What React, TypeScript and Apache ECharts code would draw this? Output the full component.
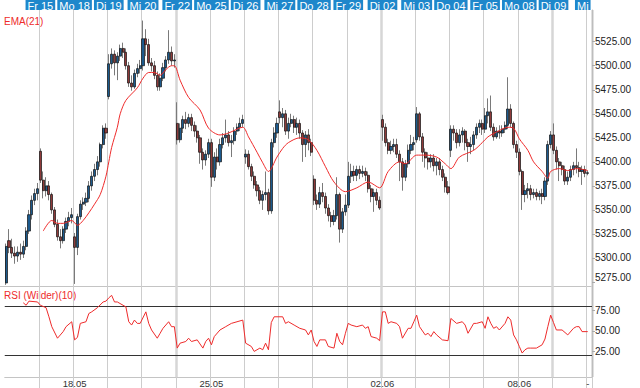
import React, { useEffect, useRef } from "react";
import * as echarts from "echarts";

const BARS_PER_DAY = 12;
const LAST_DAY_SLOTS = 2;
const dayNames = ["Do 14", "Fr 15", "Mo 18", "Di 19", "Mi 20", "Fr 22", "Mo 25", "Di 26", "Mi 27", "Do 28", "Fr 29", "Di 02", "Mi 03", "Do 04", "Fr 05", "Mo 08", "Di 09", "Mi"];
const dateTicks = ["", "", "18.05", "", "", "", "25.05", "", "", "", "", "02.06", "", "", "", "08.06", "", "-"];
const wideBreaks = [5, 11, 16];

// [open, close, low, high]
const candles = [
  [5274, 5312, 5272, 5315], [5318, 5311, 5305, 5330], [5311, 5305, 5300, 5320], [5305, 5302, 5294, 5312],
  [5302, 5306, 5296, 5312], [5306, 5304, 5298, 5315], [5304, 5312, 5300, 5318], [5312, 5328, 5308, 5332],
  [5328, 5345, 5325, 5350], [5345, 5360, 5340, 5365], [5360, 5367, 5355, 5372], [5367, 5372, 5360, 5378],
  [5411, 5381, 5378, 5414], [5381, 5370, 5362, 5390], [5370, 5375, 5364, 5384], [5375, 5366, 5360, 5380],
  [5366, 5350, 5346, 5368], [5350, 5335, 5332, 5353], [5335, 5322, 5318, 5340], [5322, 5318, 5310, 5330],
  [5318, 5330, 5315, 5333], [5330, 5338, 5326, 5342], [5338, 5342, 5333, 5348], [5342, 5345, 5336, 5352],
  [5322, 5311, 5273, 5326], [5311, 5343, 5303, 5346], [5343, 5356, 5340, 5360], [5356, 5358, 5350, 5363],
  [5358, 5362, 5354, 5368], [5362, 5375, 5358, 5380], [5375, 5385, 5370, 5390], [5385, 5392, 5380, 5398],
  [5392, 5400, 5386, 5406], [5400, 5418, 5395, 5420], [5418, 5435, 5414, 5438], [5435, 5430, 5424, 5440],
  [5468, 5502, 5465, 5512], [5502, 5512, 5497, 5518], [5512, 5503, 5490, 5516], [5503, 5510, 5485, 5514],
  [5510, 5518, 5505, 5522], [5518, 5514, 5508, 5524], [5514, 5500, 5496, 5518], [5500, 5482, 5478, 5504],
  [5482, 5478, 5474, 5490], [5478, 5492, 5476, 5496], [5492, 5497, 5488, 5502], [5497, 5500, 5492, 5506],
  [5500, 5528, 5495, 5547], [5528, 5522, 5510, 5538], [5522, 5503, 5500, 5528], [5503, 5500, 5494, 5508],
  [5500, 5490, 5486, 5505], [5490, 5478, 5474, 5494], [5478, 5487, 5474, 5492], [5487, 5498, 5484, 5503],
  [5498, 5506, 5494, 5510], [5506, 5514, 5502, 5537], [5514, 5505, 5500, 5520], [5505, 5506, 5498, 5512],
  [5440, 5423, 5418, 5462], [5423, 5435, 5420, 5440], [5435, 5444, 5430, 5448], [5444, 5440, 5434, 5452],
  [5440, 5446, 5436, 5450], [5446, 5438, 5432, 5450], [5438, 5432, 5426, 5442], [5432, 5425, 5420, 5438],
  [5425, 5410, 5398, 5428], [5410, 5402, 5392, 5414], [5402, 5408, 5396, 5412], [5408, 5420, 5404, 5424],
  [5420, 5384, 5374, 5424], [5384, 5405, 5380, 5410], [5405, 5400, 5392, 5414], [5400, 5418, 5396, 5424],
  [5418, 5425, 5414, 5430], [5425, 5428, 5420, 5444], [5428, 5420, 5416, 5432], [5420, 5422, 5405, 5428],
  [5422, 5432, 5418, 5436], [5432, 5436, 5428, 5440], [5436, 5440, 5432, 5446], [5440, 5444, 5436, 5449],
  [5405, 5408, 5398, 5413], [5408, 5395, 5392, 5412], [5395, 5385, 5380, 5398], [5385, 5376, 5372, 5390],
  [5376, 5370, 5364, 5380], [5370, 5360, 5356, 5374], [5360, 5366, 5350, 5370], [5366, 5368, 5360, 5390],
  [5368, 5349, 5345, 5372], [5349, 5420, 5346, 5424], [5420, 5430, 5415, 5436], [5430, 5440, 5425, 5446],
  [5452, 5446, 5440, 5464], [5446, 5450, 5436, 5456], [5450, 5432, 5428, 5454], [5432, 5440, 5424, 5446],
  [5440, 5444, 5436, 5450], [5444, 5436, 5430, 5448], [5436, 5440, 5428, 5446], [5440, 5430, 5424, 5444],
  [5430, 5418, 5400, 5433], [5418, 5428, 5405, 5432], [5428, 5420, 5412, 5434], [5420, 5410, 5406, 5424],
  [5382, 5360, 5355, 5386], [5360, 5356, 5350, 5366], [5356, 5368, 5352, 5374], [5368, 5364, 5358, 5378],
  [5364, 5352, 5346, 5368], [5352, 5344, 5338, 5356], [5344, 5338, 5332, 5348], [5338, 5344, 5334, 5350],
  [5344, 5366, 5340, 5384], [5366, 5330, 5316, 5368], [5330, 5348, 5326, 5352], [5348, 5355, 5344, 5366],
  [5355, 5385, 5352, 5400], [5385, 5390, 5378, 5398], [5390, 5386, 5380, 5396], [5386, 5392, 5380, 5396],
  [5392, 5388, 5382, 5396], [5388, 5390, 5384, 5396], [5390, 5386, 5380, 5394], [5386, 5372, 5368, 5390],
  [5372, 5364, 5358, 5376], [5364, 5368, 5348, 5372], [5368, 5360, 5355, 5372], [5360, 5352, 5350, 5364],
  [5444, 5436, 5422, 5449], [5436, 5420, 5416, 5440], [5420, 5412, 5408, 5424], [5412, 5416, 5408, 5422],
  [5416, 5418, 5410, 5424], [5418, 5408, 5404, 5424], [5408, 5400, 5380, 5412], [5400, 5384, 5370, 5404],
  [5384, 5398, 5380, 5402], [5398, 5412, 5394, 5418], [5412, 5418, 5408, 5428], [5418, 5420, 5412, 5426],
  [5423, 5450, 5420, 5457], [5450, 5426, 5422, 5452], [5426, 5410, 5400, 5430], [5410, 5404, 5394, 5414],
  [5404, 5400, 5392, 5410], [5400, 5404, 5394, 5408], [5404, 5396, 5390, 5408], [5396, 5400, 5386, 5404],
  [5400, 5392, 5386, 5404], [5392, 5384, 5380, 5396], [5384, 5374, 5368, 5388], [5374, 5368, 5366, 5380],
  [5412, 5434, 5405, 5438], [5434, 5430, 5422, 5438], [5430, 5420, 5414, 5434], [5420, 5428, 5416, 5434],
  [5428, 5432, 5420, 5436], [5432, 5420, 5412, 5434], [5420, 5416, 5400, 5424], [5416, 5418, 5408, 5426],
  [5418, 5428, 5412, 5432], [5428, 5436, 5424, 5440], [5436, 5440, 5430, 5444], [5440, 5434, 5428, 5444],
  [5434, 5448, 5430, 5456], [5448, 5452, 5440, 5466], [5452, 5436, 5432, 5469], [5436, 5426, 5422, 5440],
  [5426, 5432, 5424, 5436], [5432, 5430, 5424, 5438], [5430, 5434, 5426, 5438], [5434, 5438, 5430, 5442],
  [5438, 5455, 5434, 5488], [5455, 5440, 5436, 5460], [5440, 5418, 5414, 5442], [5418, 5410, 5404, 5422],
  [5410, 5390, 5386, 5414], [5390, 5366, 5350, 5392], [5366, 5370, 5358, 5376], [5370, 5372, 5362, 5378],
  [5372, 5366, 5360, 5376], [5366, 5368, 5362, 5372], [5368, 5364, 5360, 5372], [5364, 5367, 5360, 5370],
  [5367, 5364, 5356, 5372], [5364, 5380, 5360, 5384], [5380, 5418, 5376, 5422], [5418, 5428, 5414, 5432],
  [5428, 5412, 5408, 5440], [5412, 5400, 5392, 5416], [5400, 5396, 5380, 5404], [5396, 5392, 5386, 5400],
  [5392, 5380, 5376, 5396], [5380, 5384, 5376, 5390], [5384, 5392, 5380, 5396], [5392, 5396, 5386, 5400],
  [5396, 5394, 5388, 5414], [5394, 5390, 5384, 5400], [5390, 5392, 5376, 5396], [5392, 5388, 5384, 5396],
  [5388, 5388.67, 5386, 5391],
];

// [bar index, value]
const emaPoints = [
  [13, 5328], [16, 5339], [18, 5336], [20, 5336], [23, 5339], [25, 5334], [27, 5339], [29, 5347], [31, 5356],
  [33, 5366], [35, 5385], [36, 5400], [37, 5415], [39, 5436], [40, 5450], [42, 5464], [46, 5477], [48, 5487],
  [50, 5493], [52, 5493], [54, 5490], [56, 5496], [58, 5500], [59, 5500], [61, 5485], [64, 5467], [68, 5454],
  [71, 5435], [75, 5428], [78, 5430], [83, 5436], [85, 5426], [88, 5410], [90, 5399], [92, 5390], [95, 5405],
  [97, 5414], [99, 5420], [103, 5425], [106, 5423], [109, 5412], [112, 5395], [115, 5379], [119, 5369],
  [123, 5373], [127, 5379], [131, 5373], [134, 5390], [138, 5400], [140, 5398], [144, 5407], [147, 5407],
  [151, 5405], [154, 5398], [156, 5393], [159, 5405], [164, 5412], [167, 5420], [169, 5426], [172, 5431],
  [176, 5436], [178, 5435], [180, 5424], [183, 5412], [185, 5400], [188, 5390], [190, 5383], [191, 5390],
  [194, 5393], [197, 5391], [200, 5393], [204, 5391],
];

const rsiPoints = [
  [6, 84], [7, 81], [8, 86], [11, 85], [12, 81], [14, 78], [15, 67], [16, 55], [18, 41], [20, 49], [21, 55],
  [23, 61], [24, 39], [25, 42], [26, 59], [28, 61], [29, 71], [30, 73], [32, 78], [34, 85], [35, 86], [36, 90],
  [37, 93], [38, 85], [39, 85], [41, 81], [42, 79], [43, 61], [44, 57], [45, 63], [46, 59], [47, 59], [49, 73],
  [50, 59], [51, 51], [53, 41], [54, 47], [55, 53], [57, 61], [58, 55], [59, 55], [60, 29], [61, 35], [63, 37],
  [64, 41], [65, 37], [67, 39], [69, 29], [70, 37], [71, 41], [72, 33], [73, 43], [75, 51], [77, 55], [79, 59],
  [83, 63], [84, 35], [86, 31], [87, 25], [89, 29], [90, 27], [91, 35], [92, 27], [93, 60], [94, 67], [97, 67],
  [98, 59], [99, 61], [101, 57], [103, 53], [105, 51], [106, 45], [107, 51], [108, 37], [109, 31], [110, 39],
  [112, 39], [113, 31], [115, 29], [116, 47], [117, 37], [118, 33], [119, 47], [120, 59], [121, 57], [123, 55],
  [125, 57], [126, 53], [127, 55], [128, 43], [130, 41], [131, 38], [132, 73], [133, 73], [134, 59], [135, 61],
  [137, 59], [138, 55], [139, 41], [141, 53], [142, 53], [143, 61], [144, 69], [145, 55], [147, 45], [148, 47],
  [149, 43], [150, 49], [151, 45], [153, 39], [155, 38], [156, 65], [158, 59], [160, 61], [161, 57], [162, 47],
  [164, 59], [165, 59], [167, 61], [168, 53], [169, 67], [170, 59], [171, 53], [172, 55], [173, 51], [175, 59],
  [176, 67], [177, 63], [178, 45], [179, 39], [180, 31], [181, 23], [182, 27], [183, 29], [184, 29], [186, 29],
  [188, 33], [189, 40], [190, 55], [191, 69], [192, 60], [193, 51], [195, 51], [197, 45], [199, 53], [200, 55],
  [201, 55], [202, 49], [204, 49],
];
const rsiBands = [80, 20];

const RED = "#ee2b2b";
const BLUE_TAG = "#1e87cb";
const GRID_GRAY = "#cdcdcd";
const FONT = "'Liberation Sans', Arial, sans-serif";

export default function App() {
  const ref = useRef<HTMLDivElement>(null);

  useEffect(() => {
    document.body.style.margin = "0";
    const el = ref.current;
    if (!el) return;
    const chart = echarts.init(el, null, { renderer: "svg" });

    const total = (dayNames.length - 1) * BARS_PER_DAY + LAST_DAY_SLOTS;
    const categories = Array.from({ length: total }, (_, i) => {
      const d = Math.floor(i / BARS_PER_DAY);
      return `${dayNames[d]} #${i % BARS_PER_DAY}`;
    });
    const isBoundary = (i: number) => i % BARS_PER_DAY === 0 && i > 0;
    const lastFullDayEnd = (dayNames.length - 1) * BARS_PER_DAY;

    const bodies = candles.map(([o, c]) => [o, c, Math.min(o, c), Math.max(o, c)]);
    const lastClose = candles[candles.length - 1][1];

    const gridL = 4.75;
    const gridR = 48;

    const option: any = {
      animation: false,
      textStyle: { fontFamily: FONT },
      grid: [
        { left: gridL, right: gridR, top: 10, bottom: 11 },
        { left: gridL, right: gridR, top: 17.67, bottom: 106 },
        { left: gridL, right: gridR, top: 289.6, bottom: 16 },
      ],
      xAxis: [
        {
          type: "category", gridIndex: 0, position: "top", data: categories, boundaryGap: true,
          axisLine: { show: false }, axisTick: { show: false },
          splitLine: { show: true, interval: (i: number) => isBoundary(i), lineStyle: { color: GRID_GRAY, width: 1 } },
          axisLabel: {
            interval: (i: number) => (isBoundary(i) && i < lastFullDayEnd) || i === total - 1,
            formatter: (_v: string, i: number) => (i === total - 1 ? dayNames[dayNames.length - 1] : dayNames[i / BARS_PER_DAY]),
            color: "#fff", backgroundColor: BLUE_TAG, fontSize: 11, lineHeight: 9,
            padding: [1, 2, 0, 2], margin: 0, alignMaxLabel: "right",
          },
        },
        {
          type: "category", gridIndex: 0, position: "bottom", data: categories, boundaryGap: true,
          axisLine: { show: true, lineStyle: { color: "#c4c4c4" } },
          axisTick: { show: true, interval: (i: number) => isBoundary(i), length: 11, lineStyle: { color: GRID_GRAY } },
          splitLine: {
            show: true,
            interval: (i: number) => isBoundary(i) && wideBreaks.includes(i / BARS_PER_DAY),
            lineStyle: { color: "#d6d6d6", width: 2.5 },
          },
          axisLabel: {
            interval: (i: number) => i % BARS_PER_DAY === 0 && dateTicks[i / BARS_PER_DAY] !== "",
            formatter: (_v: string, i: number) => dateTicks[i / BARS_PER_DAY],
            color: "#333", fontSize: 9.5, margin: 1,
          },
        },
        { type: "category", gridIndex: 1, data: categories, boundaryGap: true, show: false },
        { type: "category", gridIndex: 2, data: categories, boundaryGap: true, show: false },
      ],
      yAxis: [
        {
          type: "value", gridIndex: 0, position: "right", min: 0, max: 1,
          axisLine: { show: true, lineStyle: { color: "#bdbdbd" } },
          axisTick: { show: false }, axisLabel: { show: false }, splitLine: { show: false },
        },
        {
          type: "value", gridIndex: 1, position: "right", min: 5275, max: 5550, interval: 25, scale: true,
          axisLine: { show: false },
          axisTick: { show: true, length: 3, lineStyle: { color: "#aaa" } },
          splitLine: { show: false },
          axisLabel: {
            formatter: (v: number) => v.toFixed(2), color: "#222", fontSize: 10, margin: 3,
            showMaxLabel: false, verticalAlignMinLabel: "bottom",
          },
        },
        {
          type: "value", gridIndex: 2, position: "right", min: 0, max: 100, interval: 25,
          axisLine: { show: false },
          axisTick: { show: true, length: 3, lineStyle: { color: "#aaa" } },
          splitLine: { show: false },
          axisLabel: {
            formatter: (v: number) => v.toFixed(2), color: "#222", fontSize: 10, margin: 3,
            showMinLabel: false, showMaxLabel: false,
          },
        },
      ],
      series: [
        {
          name: "wicks", type: "candlestick", xAxisIndex: 2, yAxisIndex: 1, clip: false,
          data: candles, barWidth: 0.4,
          itemStyle: { color: "#7a7a7a", color0: "#7a7a7a", borderColor: "#7a7a7a", borderColor0: "#7a7a7a", borderWidth: 1 },
        },
        {
          name: "bodies", type: "candlestick", xAxisIndex: 2, yAxisIndex: 1, clip: false,
          data: bodies, barWidth: 2.6,
          itemStyle: { color: "#1c5a8d", color0: "#8e3a3a", borderColor: "#111", borderColor0: "#111", borderWidth: 0.7 },
          markLine: {
            silent: true, symbol: ["none", "none"],
            lineStyle: { opacity: 0 },
            label: {
              position: "end", formatter: lastClose.toFixed(2), color: "#fff", backgroundColor: BLUE_TAG,
              fontSize: 10.5, lineHeight: 10, padding: [1, 4, 0, 4], distance: 1,
            },
            data: [{ yAxis: lastClose }],
          },
        },
        {
          name: "EMA(21)", type: "line", xAxisIndex: 2, yAxisIndex: 1, data: emaPoints,
          showSymbol: false, smooth: 0.3, lineStyle: { color: RED, width: 1 }, z: 5,
        },
        {
          name: "RSI", type: "line", xAxisIndex: 3, yAxisIndex: 2, data: rsiPoints,
          showSymbol: false, lineStyle: { color: RED, width: 1 }, z: 5,
          markLine: {
            silent: true, symbol: ["none", "none"], label: { show: false },
            lineStyle: { color: "#333", width: 1.2, type: "solid" },
            data: rsiBands.map((v) => ({ yAxis: v })),
          },
        },
      ],
      graphic: [
        { type: "line", shape: { x1: 0, y1: 286.5, x2: 592, y2: 286.5 }, style: { stroke: "#c4c4c4", lineWidth: 1 }, silent: true },
        { type: "text", left: 4, top: 16.5, style: { text: "EMA(21)", fill: RED, font: `10px ${FONT}` }, silent: true },
        { type: "text", left: 4, top: 290, style: { text: "RSI (Wilder)(10)", fill: RED, font: `10px ${FONT}` }, silent: true },
      ],
    };

    chart.setOption(option);
    return () => chart.dispose();
  }, []);

  return <div ref={ref} style={{ width: 640, height: 388 }} />;
}
